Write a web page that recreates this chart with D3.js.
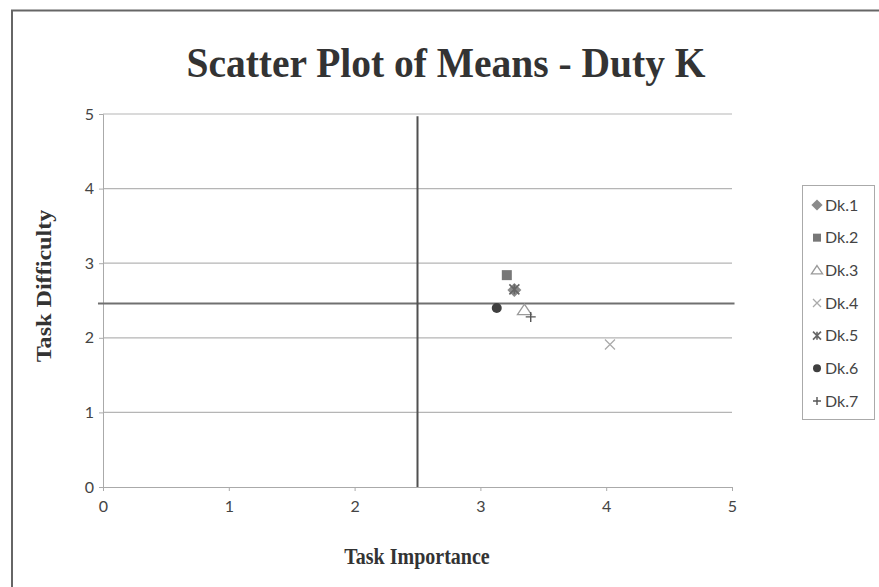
<!DOCTYPE html>
<html>
<head>
<meta charset="utf-8">
<script src="https://cdn.jsdelivr.net/npm/d3@7/dist/d3.min.js"></script>
<style>
  html, body { margin: 0; padding: 0; background: #fff; }
  svg { display: block; }
</style>
</head>
<body>
<svg id="chart" width="879" height="587"></svg>
<script>
// Duty K task means: importance (x) vs difficulty (y)
const seriesNames = ["Dk.1", "Dk.2", "Dk.3", "Dk.4", "Dk.5", "Dk.6", "Dk.7"];
const importanceMeans = [3.27, 3.21, 3.35, 4.03, 3.27, 3.13, 3.40];
const difficultyMeans = [2.64, 2.84, 2.37, 1.91, 2.65, 2.40, 2.28];
const markerShapes = ["diamond", "square", "triangle", "cross", "asterisk", "circle", "plus"];
const markerColors = ["#8a8a8a", "#777777", "#9a9a9a", "#aaaaaa", "#666666", "#3f3f3f", "#555555"];
const xTicks = [0, 1, 2, 3, 4, 5];
const yTicks = [0, 1, 2, 3, 4, 5];
// overall means used as quadrant dividers
const meanImportance = 2.5;
const meanDifficulty = 2.46;

const svg = d3.select("#chart");
const plot = { left: 103, right: 732, top: 114, bottom: 487 };

const x = d3.scaleLinear().domain([0, 5]).range([plot.left, plot.right]);
const y = d3.scaleLinear().domain([0, 5]).range([plot.bottom, plot.top]);

const serif = "'Liberation Serif', 'Times New Roman', serif";
const sans = "Lato, 'Open Sans', sans-serif";

// outer frame (top and left edges)
svg.append("path")
  .attr("d", "M12,587 V10.5 H879")
  .attr("fill", "none").attr("stroke", "#666").attr("stroke-width", 2);

// title (slightly tall, narrow lettering)
svg.append("text")
  .attr("transform", "translate(446,77) scale(1,1.06)")
  .attr("text-anchor", "middle")
  .attr("font-family", serif)
  .attr("font-weight", "bold").attr("font-size", 39.5)
  .attr("fill", "#333")
  .text("Scatter Plot of Means - Duty K");

// horizontal gridlines
svg.append("g").selectAll("line").data(yTicks.filter(d => d > 0)).join("line")
  .attr("x1", plot.left).attr("x2", plot.right)
  .attr("y1", d => y(d)).attr("y2", d => y(d))
  .attr("stroke", "#b5b5b5").attr("stroke-width", 1.2);

// y axis
const yAxis = svg.append("g")
  .attr("transform", `translate(${plot.left},0)`)
  .call(d3.axisLeft(y).tickValues(yTicks).tickSize(4).tickPadding(5).tickFormat(d3.format("d")));
yAxis.select(".domain").attr("stroke", "#aaa");
yAxis.selectAll(".tick line").attr("stroke", "#aaa");
yAxis.selectAll("text").attr("font-family", sans)
  .attr("font-size", 16).attr("fill", "#444");

// x axis
const xAxis = svg.append("g")
  .attr("transform", `translate(0,${plot.bottom})`)
  .call(d3.axisBottom(x).tickValues(xTicks).tickSize(4).tickPadding(10).tickFormat(d3.format("d")));
xAxis.select(".domain").attr("stroke", "#aaa");
xAxis.selectAll(".tick line").attr("stroke", "#aaa");
xAxis.selectAll("text").attr("font-family", sans)
  .attr("font-size", 16).attr("fill", "#444");

// mean divider lines
svg.append("line")
  .attr("x1", x(-0.04)).attr("x2", x(5.02))
  .attr("y1", y(meanDifficulty)).attr("y2", y(meanDifficulty))
  .attr("stroke", "#707070").attr("stroke-width", 1.8);
svg.append("line")
  .attr("x1", x(meanImportance)).attr("x2", x(meanImportance))
  .attr("y1", y(4.97)).attr("y2", y(0))
  .attr("stroke", "#505050").attr("stroke-width", 2);

// marker drawing
function drawMarker(g, shape, color, size) {
  const s = size;
  const h = s / 2;
  switch (shape) {
    case "diamond":
      g.append("path").attr("d", `M0,${-h * 1.4} L${h * 1.4},0 L0,${h * 1.4} L${-h * 1.4},0 Z`).attr("fill", color);
      break;
    case "square":
      g.append("rect").attr("x", -h).attr("y", -h).attr("width", s).attr("height", s).attr("fill", color);
      break;
    case "triangle":
      g.append("path").attr("d", `M0,${-s * 0.6} L${s * 0.7},${s * 0.45} L${-s * 0.7},${s * 0.45} Z`)
        .attr("fill", "none").attr("stroke", color).attr("stroke-width", 1.3);
      break;
    case "cross":
      g.append("path").attr("d", `M${-h},${-h} L${h},${h} M${h},${-h} L${-h},${h}`)
        .attr("stroke", color).attr("stroke-width", 1.3);
      break;
    case "asterisk":
      g.append("path").attr("d", `M${-h},${-h} L${h},${h} M${h},${-h} L${-h},${h} M0,${-h} L0,${h}`)
        .attr("stroke", color).attr("stroke-width", 1.6);
      break;
    case "circle":
      g.append("circle").attr("r", h).attr("fill", color);
      break;
    case "plus":
      g.append("path").attr("d", `M${-h},0 L${h},0 M0,${-h} L0,${h}`)
        .attr("stroke", color).attr("stroke-width", 1.4);
      break;
  }
}

// points
const points = seriesNames.map((name, i) => ({
  name, xv: importanceMeans[i], yv: difficultyMeans[i], shape: markerShapes[i], color: markerColors[i]
}));
const pointLayer = svg.append("g");
points.forEach(p => {
  const g = pointLayer.append("g").attr("transform", `translate(${x(p.xv)},${y(p.yv)})`);
  drawMarker(g, p.shape, p.color, 10);
});

// axis titles
svg.append("text")
  .attr("transform", "translate(417,564) scale(1,1.12)")
  .attr("text-anchor", "middle")
  .attr("font-family", serif)
  .attr("font-weight", "bold").attr("font-size", 20).attr("fill", "#333")
  .text("Task Importance");
svg.append("text")
  .attr("transform", "translate(51,286) rotate(-90) scale(1.15,1)")
  .attr("text-anchor", "middle")
  .attr("font-family", serif)
  .attr("font-weight", "bold").attr("font-size", 21).attr("fill", "#333")
  .text("Task Difficulty");

// legend
const legend = svg.append("g");
legend.append("rect")
  .attr("x", 802.5).attr("y", 185.5).attr("width", 72).attr("height", 234)
  .attr("fill", "#fff").attr("stroke", "#aaa");
const legendY = d3.scalePoint().domain(seriesNames).range([205, 401]);
points.forEach(p => {
  const g = legend.append("g").attr("transform", `translate(0,${legendY(p.name)})`);
  const m = g.append("g").attr("transform", "translate(817,0)");
  drawMarker(m, p.shape, p.color, 8);
  g.append("text").attr("x", 825).attr("y", 5.5)
    .attr("font-family", sans)
    .attr("font-size", 16).attr("fill", "#444")
    .text(p.name);
});
</script>
</body>
</html>
